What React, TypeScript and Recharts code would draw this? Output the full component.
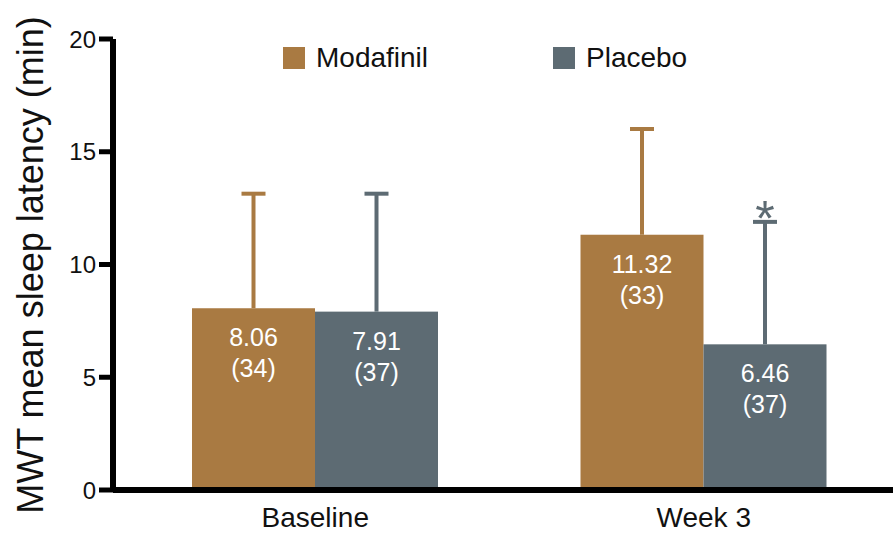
import React from 'react';
import { BarChart, Bar, XAxis, YAxis, Legend } from 'recharts';

// Mean MWT sleep latency (min) with SD, and sample size per group
const groups = ['Baseline', 'Week 3'];
const modafinilMean = [8.06, 11.32];
const placeboMean = [7.91, 6.46];
const modafinilSD = [5.08, 4.69];
const placeboSD = [5.23, 5.43];
const modafinilN = [34, 33];
const placeboN = [37, 37];
const placeboSig = ['', '*'];
const yTicks = [0, 5, 10, 15, 20];

const BROWN = '#A97A42';
const SLATE = '#5D6B73';
const FONT = '"Liberation Sans", Arial, Helvetica, sans-serif';

const data = groups.map((g, i) => ({
  group: g,
  modafinil: modafinilMean[i],
  placebo: placeboMean[i],
  modafinilSD: modafinilSD[i],
  placeboSD: placeboSD[i],
  modafinilN: modafinilN[i],
  placeboN: placeboN[i],
  placeboSig: placeboSig[i],
}));

// Bar with an upward SD whisker, the mean and (n) inside, and an optional significance mark
const makeShape = (valKey: string, nKey: string, sdKey: string, sigKey?: string) => (props: any) => {
  const { x, y, width, height, fill, payload } = props;
  const v = payload[valKey];
  const n = payload[nKey];
  const cx = x + width / 2;
  const pxPerUnit = v ? height / v : 0;
  const capY = y - payload[sdKey] * pxPerUnit;
  const sig = sigKey ? payload[sigKey] : '';
  return (
    <g>
      <rect x={x} y={y} width={width} height={height} fill={fill} />
      <line x1={cx} x2={cx} y1={y} y2={capY} stroke={fill} strokeWidth={4} />
      <line x1={cx - 12} x2={cx + 12} y1={capY} y2={capY} stroke={fill} strokeWidth={4} />
      <text x={cx} y={y + 38} textAnchor="middle" fill="#fff" fontSize={25} fontFamily={FONT}>
        {v.toFixed(2)}
      </text>
      <text x={cx} y={y + 69} textAnchor="middle" fill="#fff" fontSize={25} fontFamily={FONT}>
        ({n})
      </text>
      {sig ? (
        <text x={cx} y={capY + 14} textAnchor="middle" fill={fill} fontSize={50} fontFamily={FONT}>
          {sig}
        </text>
      ) : null}
    </g>
  );
};

const renderLegend = (props: any) => {
  const items = props.payload || [];
  return (
    <div style={{ display: 'flex', fontFamily: FONT }}>
      {items.map((it: any) => (
        <div key={it.value} style={{ display: 'flex', alignItems: 'center', width: 270, height: 22 }}>
          <span style={{ display: 'inline-block', width: 22, height: 22, background: it.color, marginRight: 11 }} />
          <span style={{ fontSize: 28, lineHeight: 1, color: '#111' }}>{it.value}</span>
        </div>
      ))}
    </div>
  );
};

const renderXTick = (props: any) => {
  const { x, payload } = props;
  return (
    <text x={x} y={527} textAnchor="middle" fontSize={28} fill="#111" fontFamily={FONT}>
      {payload.value}
    </text>
  );
};

const renderYTick = (props: any) => {
  const { x, y, payload } = props;
  return (
    <text x={x} y={y} dy={8.5} textAnchor="end" fontSize={24} fill="#111" fontFamily={FONT}>
      {payload.value}
    </text>
  );
};

export default function App() {
  return (
    <div style={{ position: 'absolute', left: 0, top: 0, width: 893, height: 533, overflow: 'hidden', background: '#fff' }}>
      <BarChart
        width={898}
        height={533}
        data={data}
        margin={{ top: 39, right: 0, bottom: 0, left: 0 }}
        barGap={0}
        barSize={123}
      >
        <XAxis
          dataKey="group"
          height={43}
          padding={{ left: 8, right: 0 }}
          axisLine={{ stroke: '#000', strokeWidth: 6 }}
          tickLine={false}
          tickSize={0}
          tick={renderXTick}
        />
        <YAxis
          width={113}
          domain={[0, 20]}
          ticks={yTicks}
          interval={0}
          axisLine={{ stroke: '#000', strokeWidth: 6 }}
          tickLine={{ stroke: '#000', strokeWidth: 5 }}
          tickSize={14}
          tickMargin={3}
          tick={renderYTick}
          label={{
            content: () => (
              <text
                transform="translate(43,265) rotate(-90)"
                textAnchor="middle"
                fontSize={36}
                fill="#111"
                fontFamily={FONT}
              >
                MWT mean sleep latency (min)
              </text>
            ),
          }}
        />
        <Legend
          verticalAlign="middle"
          align="center"
          layout="horizontal"
          content={renderLegend}
          wrapperStyle={{ position: 'absolute', top: 47, left: 283, width: 600 }}
        />
        <Bar
          dataKey="modafinil"
          name="Modafinil"
          fill={BROWN}
          isAnimationActive={false}
          shape={makeShape('modafinil', 'modafinilN', 'modafinilSD')}
        />
        <Bar
          dataKey="placebo"
          name="Placebo"
          fill={SLATE}
          isAnimationActive={false}
          shape={makeShape('placebo', 'placeboN', 'placeboSD', 'placeboSig')}
        />
      </BarChart>
    </div>
  );
}
